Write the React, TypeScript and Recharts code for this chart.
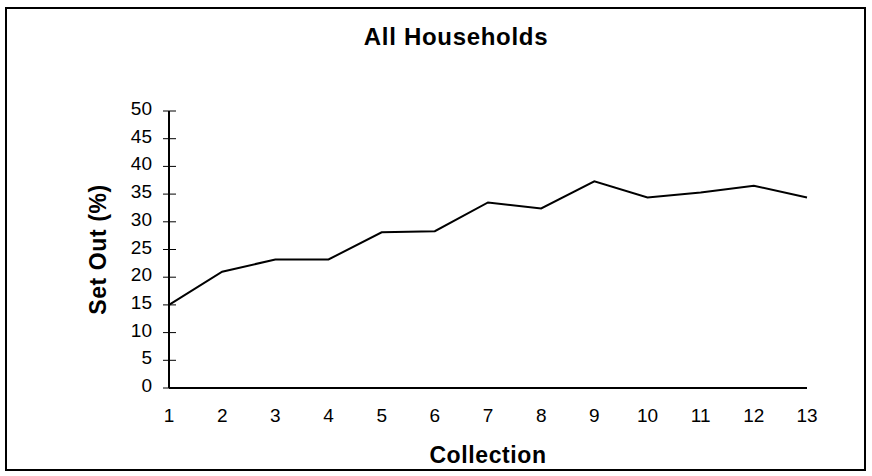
import React from 'react';
import { LineChart, Line, XAxis, YAxis } from 'recharts';

const collections = [1, 2, 3, 4, 5, 6, 7, 8, 9, 10, 11, 12, 13];
const setOutPct = [15, 21, 23.2, 23.2, 28.1, 28.3, 33.5, 32.4, 37.3, 34.4, 35.3, 36.5, 34.4];
const yTicks = [0, 5, 10, 15, 20, 25, 30, 35, 40, 45, 50];

const data = collections.map((c, i) => ({ x: c, v: setOutPct[i] }));

const FONT = '"Liberation Sans", Arial, sans-serif';

const YTick = (props: any) => {
  const { x, y, payload } = props;
  return (
    <g>
      <line x1={x - 6} x2={x + 7} y1={y} y2={y} stroke="#000" strokeWidth={1} />
      <text x={x - 17} y={y + 4} textAnchor="end" fontSize={19} fontFamily={FONT} fill="#000">
        {payload.value}
      </text>
    </g>
  );
};

const XTick = (props: any) => {
  const { x, y, payload } = props;
  return (
    <text x={x} y={y + 7} textAnchor="middle" fontSize={19} fontFamily={FONT} fill="#000">
      {payload.value}
    </text>
  );
};

export default function App() {
  return (
    <div style={{ position: 'absolute', left: 0, top: 0, width: 872, height: 476, background: '#fff' }}>
      <div
        style={{
          position: 'absolute', left: 5, top: 7, width: 861, height: 464,
          border: '2px solid #000', boxSizing: 'border-box',
        }}
      />
      <div
        style={{
          position: 'absolute', left: 0, top: 23, width: 912, textAlign: 'center',
          fontFamily: FONT, fontWeight: 'bold', fontSize: 24, letterSpacing: 0.7, color: '#000', lineHeight: '28px',
        }}
      >
        All Households
      </div>
      <div style={{ position: 'absolute', left: 0, top: 0 }}>
        <LineChart width={872} height={476} data={data} margin={{ top: 111, right: 65, bottom: 0, left: 0 }}>
          <XAxis
            dataKey="x"
            type="number"
            domain={[1, 13]}
            ticks={collections}
            interval={0}
            tickLine={false}
            tickSize={0}
            tickMargin={27}
            height={88}
            axisLine={{ stroke: '#000', strokeWidth: 2 }}
            tick={<XTick />}
            label={{
              content: (p: any) => {
                const vb = p.viewBox;
                return (
                  <text x={vb.x + vb.width / 2} y={463} textAnchor="middle" fontSize={23} letterSpacing={0.6} fontWeight="bold" fontFamily={FONT} fill="#000">
                    Collection
                  </text>
                );
              },
            }}
          />
          <XAxis
            xAxisId="top"
            orientation="top"
            dataKey="x"
            type="number"
            domain={[1, 13]}
            tick={false}
            tickLine={false}
            height={0}
            axisLine={{ stroke: '#000', strokeWidth: 2 }}
          />
          <YAxis
            domain={[0, 50]}
            ticks={yTicks}
            interval={0}
            width={169}
            tickLine={false}
            tickSize={0}
            tickMargin={0}
            axisLine={{ stroke: '#000', strokeWidth: 2 }}
            tick={<YTick />}
            label={{
              content: (p: any) => {
                const vb = p.viewBox;
                const cy = vb.y + vb.height / 2;
                return (
                  <text x={98} y={cy} transform={`rotate(-90 98 ${cy})`} textAnchor="middle" dominantBaseline="central" fontSize={23} letterSpacing={0.6} fontWeight="bold" fontFamily={FONT} fill="#000">
                    Set Out (%)
                  </text>
                );
              },
            }}
          />
          <YAxis
            yAxisId="right"
            orientation="right"
            domain={[0, 50]}
            tick={false}
            tickLine={false}
            width={0}
            axisLine={{ stroke: '#000', strokeWidth: 2 }}
          />
          <Line
            type="linear"
            dataKey="v"
            stroke="#000"
            strokeWidth={2}
            dot={false}
            isAnimationActive={false}
          />
        </LineChart>
      </div>
    </div>
  );
}
